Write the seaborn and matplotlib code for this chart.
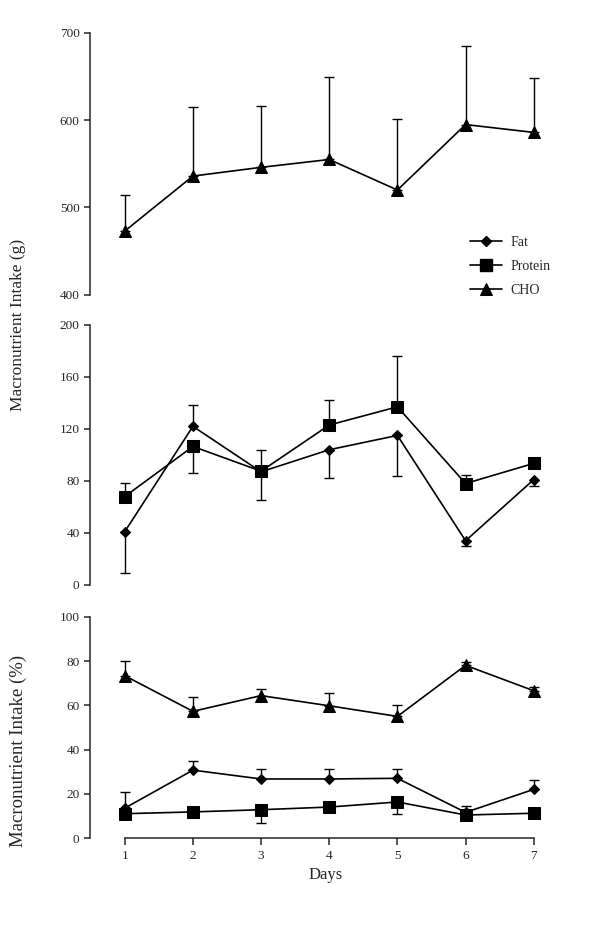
import numpy as np
import pandas as pd
import matplotlib
matplotlib.use("Agg")
import matplotlib.pyplot as plt
import seaborn as sns

# ---- data ----
days = [1, 2, 3, 4, 5, 6, 7]

# intake in grams
cho_g = [473, 536, 546, 555, 520, 595, 586]
cho_g_sd = [41, 79, 70, 95, 81, 90, 62]          # + = bar drawn up, - = down
fat_g = [41, 122, 87, 104, 115, 34, 81]
fat_g_sd = [-32, 16.5, -21.5, -22, -31.5, -4, -5]
protein_g = [68, 106.5, 87.5, 123, 137, 78, 93.5]
protein_g_sd = [10.5, -20.5, 16, 19, 39, 6.5, 3]

# intake in percent of energy
cho_pct = [73.4, 57.3, 64.4, 59.8, 55.0, 78.1, 66.6]
cho_pct_sd = [6.5, 6.3, 3.0, 5.9, 5.0, 1.4, 1.7]
fat_pct = [13.5, 30.7, 26.7, 26.7, 27.0, 11.6, 22.0]
fat_pct_sd = [7.5, 4.0, 4.6, 4.6, 4.3, 3.1, 4.1]
protein_pct = [11.0, 11.8, 12.8, 14.0, 16.3, 10.4, 11.2]
protein_pct_sd = [-1, -1, -5.8, -1, -5.4, -1, -1]

series_style = {
    "Fat": dict(marker="D", ms=5.5),
    "Protein": dict(marker="s", ms=8.5),
    "CHO": dict(marker="^", ms=8.5),
}

sns.set_style("ticks")
plt.rcParams["font.family"] = ["Liberation Serif", "DejaVu Serif"]
plt.rcParams["axes.linewidth"] = 1.1
plt.rcParams["xtick.major.width"] = 1.1
plt.rcParams["ytick.major.width"] = 1.1


def draw_series(ax, name, values, sd):
    sd = np.array(sd, dtype=float)
    lower = np.where(sd < 0, -sd, 0)
    upper = np.where(sd > 0, sd, 0)
    ax.errorbar(days, values, yerr=[lower, upper], fmt="none", ecolor="black",
                elinewidth=1.0, capsize=3.5, capthick=1.0, zorder=2)
    df = pd.DataFrame({"day": days, "value": values})
    st = series_style[name]
    sns.lineplot(data=df, x="day", y="value", ax=ax, color="black", linewidth=1.2,
                 marker=st["marker"], markersize=st["ms"], markeredgecolor="black",
                 label=name, zorder=3)


fig = plt.figure(figsize=(6, 9.27), dpi=100)
left, width = 0.15, 0.785
ax1 = fig.add_axes([left, 0.682, width, 0.2825])
ax2 = fig.add_axes([left, 0.369, width, 0.2805])
ax3 = fig.add_axes([left, 0.096, width, 0.2385])

# top: CHO grams (legend lives here)
ax1.plot([], [], color="black", lw=1.2, marker="D", ms=5.5, label="Fat")
ax1.plot([], [], color="black", lw=1.2, marker="s", ms=8.5, label="Protein")
draw_series(ax1, "CHO", cho_g, cho_g_sd)
ax1.set_ylim(400, 700)
ax1.set_yticks([400, 500, 600, 700])
ax1.legend(loc="lower right", bbox_to_anchor=(0.99, -0.03), frameon=False,
           fontsize=10, handlelength=2.3, handletextpad=0.6, labelspacing=0.8,
           borderaxespad=0)

# middle: fat & protein grams
draw_series(ax2, "Fat", fat_g, fat_g_sd)
draw_series(ax2, "Protein", protein_g, protein_g_sd)
ax2.set_ylim(0, 200)
ax2.set_yticks([0, 40, 80, 120, 160, 200])
ax2.get_legend().remove()

# bottom: percentages
draw_series(ax3, "CHO", cho_pct, cho_pct_sd)
draw_series(ax3, "Fat", fat_pct, fat_pct_sd)
draw_series(ax3, "Protein", protein_pct, protein_pct_sd)
ax3.set_ylim(0, 100)
ax3.set_yticks([0, 20, 40, 60, 80, 100])
ax3.get_legend().remove()

for ax in (ax1, ax2, ax3):
    ax.set_xlim(0.49, 7.4)
    ax.set_ylabel("")
    ax.set_xlabel("")
    sns.despine(ax=ax)
    ax.tick_params(axis="y", labelsize=9.5, length=4, direction="out")

for ax in (ax1, ax2):
    ax.spines["bottom"].set_visible(False)
    ax.set_xticks([])

ax3.set_xticks(days)
ax3.spines["bottom"].set_bounds(1, 7)
ax3.tick_params(axis="x", labelsize=9.5, length=5, direction="out")
ax3.set_xlabel("Days", fontsize=12)

fig.text(0.03, 0.649, "Macronutrient Intake (g)", rotation=90, va="center",
         ha="center", fontsize=12.5)
fig.text(0.03, 0.19, "Macronutrient Intake (%)", rotation=90, va="center",
         ha="center", fontsize=13.5)

fig.savefig("out.png", dpi=100)
